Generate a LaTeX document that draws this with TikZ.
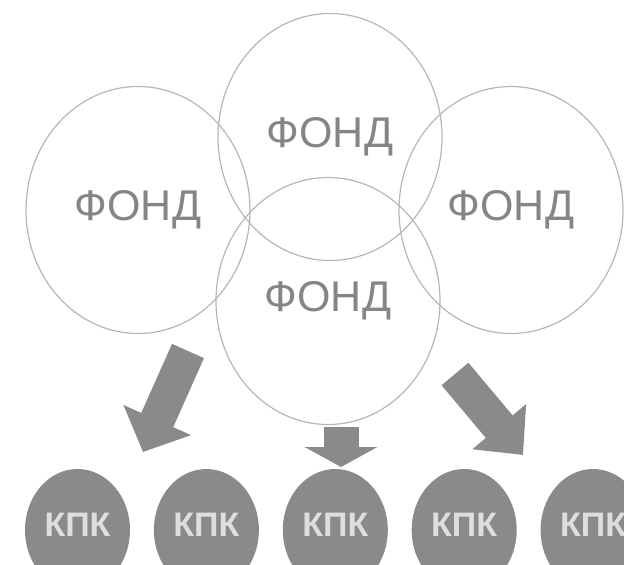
\documentclass[tikz,border=0pt]{standalone}
\usepackage{fontspec}
\setmainfont{Liberation Sans}
\usetikzlibrary{positioning,shapes.geometric,arrows.meta}

\definecolor{fondline}{HTML}{B6B6B6}
\definecolor{fondtext}{HTML}{858585}
\definecolor{kpkfill}{HTML}{8A8A8A}
\definecolor{kpktext}{HTML}{DEDEDE}

\begin{document}
\begin{tikzpicture}[
            x=1pt, y=-1pt,
            node distance=23.5pt,
            fond node/.style={ellipse,draw=fondline,line width=1.2pt,minimum width=224pt,minimum height=247pt,
                text=fondtext,font=\fontsize{43}{43}\selectfont},
            kpk node/.style={ellipse,fill=kpkfill,minimum width=105pt,minimum height=122pt,inner sep=0pt,
                text height=25pt,text depth=12pt,text=kpktext,font=\fontsize{34}{34}\selectfont\bfseries},
            flow arrow/.style={draw=kpkfill,line width=35pt,-{Triangle[length=35pt,width=72pt]}},
        ]
            \clip (0,0) rectangle (624,565);

            \node[fond node] (fondl) at (138,210) {ФОНД};
            \node[fond node] (fondt) at (330,137) {ФОНД};
            \node[fond node] (fondb) at (328,301) {ФОНД};
            \node[fond node] (fondr) at (511,210) {ФОНД};

            \node[kpk node] (kpk1) at (77.5,530) {КПК};
            \node[kpk node, right=of kpk1] (kpk2) {КПК};
            \node[kpk node, right=of kpk2] (kpk3) {КПК};
            \node[kpk node, right=of kpk3] (kpk4) {КПК};
            \node[kpk node, right=of kpk4] (kpk5) {КПК};

            \coordinate (froml) at (188,351);
            \coordinate (tol) at (143,452);
            \coordinate (fromb) at (341,427);
            \coordinate (tob) at (341,467);
            \coordinate (fromr) at (455,374);
            \coordinate (tor) at (523,455);

            \draw[flow arrow] (froml) -- (tol);
            \draw[flow arrow,-{Triangle[length=20pt,width=72pt]}] (fromb) -- (tob);
            \draw[flow arrow,-{Triangle[length=37pt,width=68pt]}] (fromr) -- (tor);
        \end{tikzpicture}
\end{document}
